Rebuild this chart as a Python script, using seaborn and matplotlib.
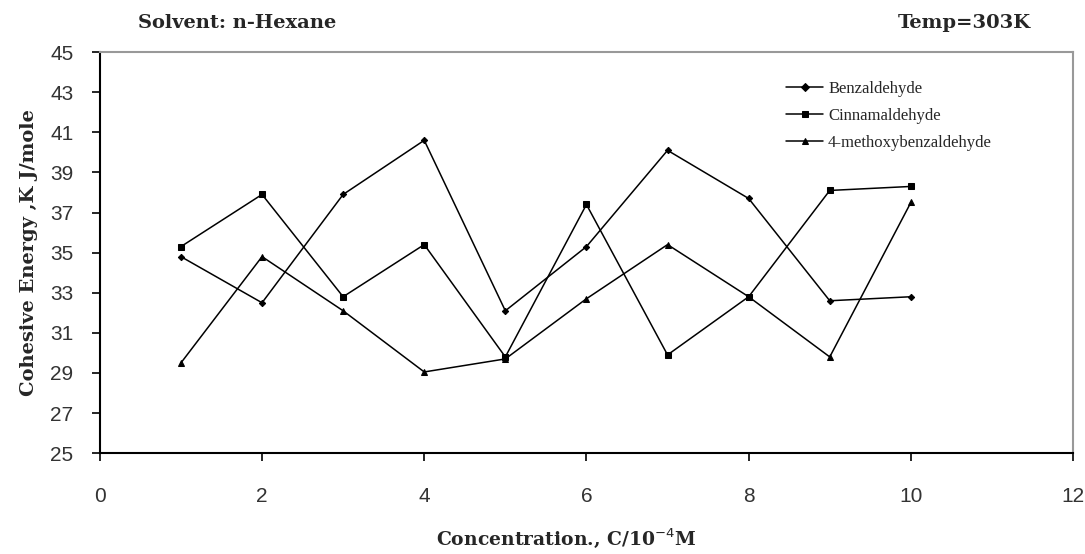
import pandas as pd
import matplotlib.pyplot as plt
import seaborn as sns

# Data
concentration = [1, 2, 3, 4, 5, 6, 7, 8, 9, 10]
benzaldehyde = [34.8, 32.5, 37.9, 40.6, 32.1, 35.3, 40.1, 37.7, 32.6, 32.8]
cinnamaldehyde = [35.3, 37.9, 32.8, 35.4, 29.8, 37.4, 29.9, 32.8, 38.1, 38.3]
methoxybenzaldehyde = [29.5, 34.8, 32.1, 29.05, 29.7, 32.7, 35.4, 32.8, 29.8, 37.5]
series_names = ['Benzaldehyde', 'Cinnamaldehyde', '4-methoxybenzaldehyde']

df = pd.DataFrame({
    'C': concentration * 3,
    'E': benzaldehyde + cinnamaldehyde + methoxybenzaldehyde,
    'compound': [n for n in series_names for _ in concentration],
})

sns.set_style('white')
serif = ['Liberation Serif', 'DejaVu Serif']
bold_serif = ['DejaVu Serif', 'Liberation Serif']
sans = ['Liberation Sans', 'DejaVu Sans']

fig = plt.figure(figsize=(10.85, 5.54), dpi=100)
ax = fig.add_axes([0.092, 0.182, 0.897, 0.724])

sns.lineplot(data=df, x='C', y='E', hue='compound', style='compound',
             palette=['black'] * 3, dashes=False,
             markers={'Benzaldehyde': 'D', 'Cinnamaldehyde': 's',
                      '4-methoxybenzaldehyde': '^'},
             markersize=5, linewidth=1.1, markeredgecolor='black', ax=ax)

# smaller dots for benzaldehyde
for line in ax.lines:
    if line.get_marker() == 'D':
        line.set_markersize(3.2)

ax.set_xlim(0, 12)
ax.set_ylim(25, 45)
ax.set_xticks(range(0, 13, 2))
ax.set_yticks(range(25, 46, 2))
ax.tick_params(axis='x', direction='out', length=6, width=1.2, colors='black',
               bottom=True, pad=18)
ax.tick_params(axis='y', direction='out', length=6, width=1.2, colors='black',
               left=True, pad=13)
for lab in ax.get_xticklabels() + ax.get_yticklabels():
    lab.set_family(sans)
    lab.set_fontsize(15)
    lab.set_color('#333333')

for side in ['left', 'bottom']:
    ax.spines[side].set_color('black')
    ax.spines[side].set_linewidth(1.5)
for side in ['top', 'right']:
    ax.spines[side].set_color('#999999')
    ax.spines[side].set_linewidth(1.5)

ax.set_xlabel('Concentration., C/10$^{-4}$M', family=bold_serif, fontweight='bold',
              fontsize=13.5, labelpad=15, x=0.479)
ax.set_ylabel('Cohesive Energy ,K J/mole', family=bold_serif, fontweight='bold',
              fontsize=14, labelpad=9)

leg = ax.legend(loc='upper left', bbox_to_anchor=(0.69, 0.965), frameon=False,
                prop={'family': serif, 'size': 12}, handlelength=2.2,
                labelspacing=0.65, handletextpad=0.3)
for h in leg.legend_handles:
    h.set_markersize(4)

fig.text(0.127, 0.958, 'Solvent: n-Hexane', family=bold_serif, fontweight='bold',
         fontsize=14, va='center')
fig.text(0.950, 0.958, 'Temp=303K', family=bold_serif, fontweight='bold',
         fontsize=14, ha='right', va='center')

fig.savefig('out.png', dpi=100)
